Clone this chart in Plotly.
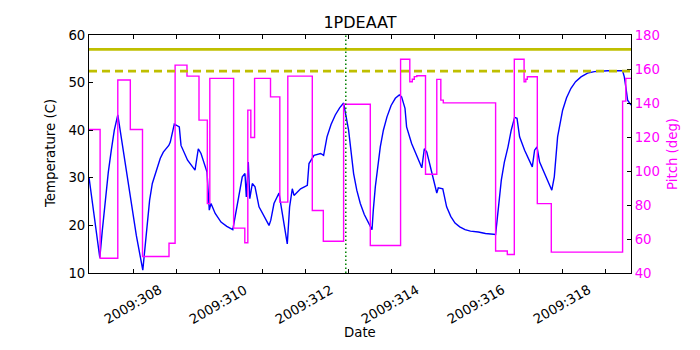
import plotly.graph_objects as go

# Temperature trace (day of year 2009, deg C)
temp_day = [
    305.958, 306.210, 306.268, 306.338, 306.408, 306.478, 306.548, 306.629, 306.758, 306.904,
    306.932, 307.061, 307.212, 307.259, 307.305, 307.371, 307.434, 307.527, 307.620, 307.690,
    307.818, 307.853, 307.946, 308.063, 308.103, 308.256, 308.429, 308.506, 308.569, 308.709,
    308.762, 308.802, 308.900, 309.035, 309.170, 309.310, 309.438, 309.531, 309.594, 309.625,
    309.671, 309.706, 309.765, 309.828, 309.921, 310.154, 310.196, 310.270, 310.387, 310.580,
    310.634, 310.697, 310.737, 310.890, 311.047, 311.086, 311.203, 311.357, 311.427, 311.506,
    311.600, 311.699, 311.800, 311.893, 312.009, 312.061, 312.126, 312.200, 312.282, 312.375,
    312.476, 312.555, 312.585, 312.632, 312.748, 312.820, 312.904, 313.000, 313.098, 313.191,
    313.245, 313.324, 313.361, 313.478, 313.716, 313.774, 313.832, 314.065, 314.100, 314.205,
    314.294, 314.390, 314.490, 314.600, 314.723, 314.850, 315.033, 315.200, 315.436, 315.569,
    315.640, 315.725, 315.800, 315.879, 315.935, 315.995, 316.112, 316.291, 316.345, 316.401,
    316.462, 316.657, 316.746, 316.804, 316.840, 316.881, 316.998, 317.090, 317.193, 317.300,
    317.427, 317.580, 317.737, 317.900, 318.047, 318.396, 318.436, 318.476, 318.513, 318.592,
]
temp_val = [
    30.1, 13.2, 18.9, 25.7, 31.2, 35.8, 40.0, 43.2, 35.8, 26.7,
    25.3, 17.9, 10.6, 15.4, 20.0, 25.3, 28.8, 31.6, 34.1, 35.4,
    36.8, 37.5, 41.3, 40.7, 36.8, 33.7, 31.6, 36.1, 35.1, 31.2,
    23.2, 24.6, 22.5, 20.7, 19.8, 19.1, 26.0, 30.2, 30.9, 26.0,
    33.3, 25.6, 28.8, 28.1, 23.9, 20.0, 21.1, 24.6, 26.8, 16.1,
    23.9, 27.7, 26.3, 27.7, 28.4, 33.0, 34.7, 35.1, 34.7, 38.6,
    41.2, 43.2, 44.7, 45.7, 40.0, 35.4, 30.9, 27.4, 24.6, 22.3,
    20.4, 19.1, 23.2, 28.1, 36.5, 40.0, 42.8, 45.2, 46.7, 47.4,
    47.0, 44.6, 40.7, 37.2, 32.1, 36.1, 35.4, 26.8, 27.9, 27.7,
    23.9, 21.9, 20.5, 19.7, 19.1, 18.8, 18.6, 18.3, 18.1, 29.5,
    33.3, 36.5, 40.0, 42.7, 42.5, 38.6, 35.8, 32.3, 35.8, 36.5,
    33.3, 29.1, 27.4, 30.2, 34.5, 38.6, 44.2, 46.8, 48.8, 50.2,
    51.2, 52.0, 52.3, 52.45, 52.5, 52.5, 51.2, 48.8, 46.3, 45.3,
]

# Pitch (deg), step changes
pitch_day = [
    305.958, 306.217, 306.629, 306.921, 307.205, 307.823, 307.965, 308.242, 308.522, 308.716,
    308.774, 309.329, 309.590, 309.660, 309.730, 309.818, 310.189, 310.406, 310.592, 311.163,
    311.420, 311.893, 312.515, 313.221, 313.436, 313.494, 313.541, 313.599, 313.802, 314.065,
    314.159, 314.217, 315.436, 315.709, 315.872, 316.100, 316.140, 316.175, 316.408, 316.734,
    318.396, 318.471, 318.592,
]
pitch_val = [
    124.4, 48.7, 153.5, 124.4, 49.7, 57.5, 162.3, 155.8, 129.9, 80.8,
    154.5, 66.4, 57.8, 135.8, 119.7, 154.5, 143.6, 81.7, 155.8, 76.8,
    58.7, 139.3, 56.2, 165.7, 152.5, 154.0, 155.5, 156.0, 98.1, 153.9,
    141.7, 140.1, 52.9, 50.9, 165.7, 152.5, 154.0, 155.4, 80.8, 52.3,
    141.1, 154.5, 154.5,
]

temp_limit_high = 57.0
temp_limit_low = 52.4
event_day = 311.944

x_range = [305.958, 318.592]
tick_days = list(range(307, 319))
label_days = [308, 310, 312, 314, 316, 318]
label_text = ["2009:%d" % d for d in label_days]

FONT = "DejaVu Sans"
MAGENTA = "#ff00ff"

fig = go.Figure()
fig.add_trace(go.Scatter(
    x=temp_day, y=temp_val, mode="lines",
    line=dict(color="#0000ff", width=1.4), yaxis="y",
))
fig.add_trace(go.Scatter(
    x=pitch_day, y=pitch_val, mode="lines", line_shape="hv",
    line=dict(color=MAGENTA, width=1.4), yaxis="y2",
))

fig.add_hline(y=temp_limit_high, line=dict(color="#bfbf00", width=2.8))
fig.add_hline(y=temp_limit_low, line=dict(color="#bfbf00", width=2.8, dash="8px,5px"))
fig.add_vline(x=event_day, line=dict(color="#008000", width=1.5, dash="1.5px,2.5px"))

# rotated date labels (matplotlib-style, right edge at the tick)
for d, txt in zip(label_days, label_text):
    fig.add_annotation(x=d, xref="x", y=0, yref="paper", text=txt, showarrow=False,
                       textangle=-30, xanchor="center", yanchor="middle",
                       xshift=-44, yshift=-31, font=dict(size=13.3))

# axis titles
fig.add_annotation(x=0.5, xref="paper", y=0, yref="paper", text="Date", showarrow=False,
                   yanchor="middle", yshift=-59, font=dict(size=13.3))
fig.add_annotation(x=0, xref="paper", y=0.5, yref="paper", text="Temperature (C)",
                   showarrow=False, textangle=-90, xanchor="center", xshift=-39,
                   font=dict(size=13.3))
fig.add_annotation(x=1, xref="paper", y=0.5, yref="paper", text="Pitch (deg)",
                   showarrow=False, textangle=-90, xanchor="center", xshift=41,
                   font=dict(size=13.3, color=MAGENTA))

fig.update_layout(
    width=700, height=350,
    margin=dict(l=89, r=69, t=35, b=77),
    paper_bgcolor="white", plot_bgcolor="white",
    showlegend=False,
    font=dict(family=FONT, size=13.3, color="black"),
    title=dict(text="1PDEAAT", x=0.5, xref="paper", y=1 - 22 / 350, yref="container",
               yanchor="middle", font=dict(size=16, family=FONT)),
    xaxis=dict(
        range=x_range, tickvals=tick_days, showticklabels=False,
        ticks="inside", ticklen=4, tickcolor="black", showline=True, linecolor="black",
        linewidth=1, mirror="ticks", showgrid=False, zeroline=False, automargin=False,
    ),
    yaxis=dict(
        range=[10, 60], dtick=10, ticks="inside", ticklen=4, tickcolor="black",
        showline=True, linecolor="black", linewidth=1, showgrid=False, zeroline=False,
        automargin=False,
    ),
    yaxis2=dict(
        range=[40, 180], dtick=20, overlaying="y", side="right", ticks="inside",
        ticklen=4, tickcolor="black", showline=True, linecolor="black", linewidth=1,
        showgrid=False, zeroline=False, tickfont=dict(color=MAGENTA), automargin=False,
    ),
)

fig.write_html("out.html", config={"displayModeBar": False},
               post_script="document.body.style.margin='0';")
